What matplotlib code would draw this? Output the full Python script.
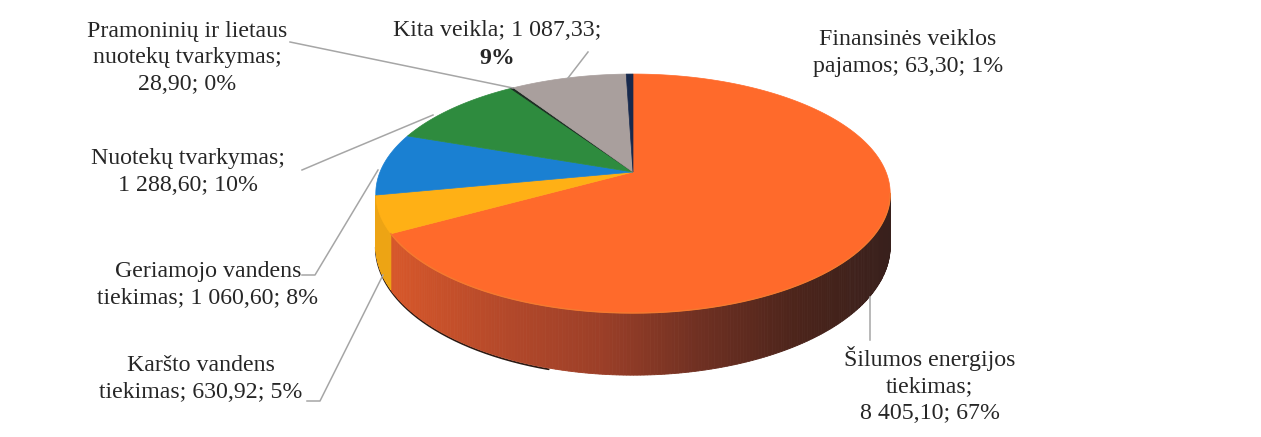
import numpy as np
import matplotlib
matplotlib.use("Agg")
import matplotlib.pyplot as plt
from matplotlib.colors import to_rgb

plt.rcParams['font.family'] = ['Liberation Serif', 'DejaVu Serif']

categories = ["Šilumos energijos tiekimas", "Karšto vandens tiekimas", "Geriamojo vandens tiekimas",
              "Nuotekų tvarkymas", "Pramoninių ir lietaus nuotekų tvarkymas", "Kita veikla",
              "Finansinės veiklos pajamos"]
values = [8405.10, 630.92, 1060.60, 1288.60, 28.90, 1087.33, 63.30]
colors = ["#ff6a2b", "#ffb015", "#1a80d2", "#2e8b3e", "#1a2a20", "#a99f9d", "#17294d"]
labels = ["Šilumos energijos\ntiekimas;\n8 405,10; 67%",
          "Karšto vandens\ntiekimas; 630,92; 5%",
          "Geriamojo vandens\ntiekimas; 1 060,60; 8%",
          "Nuotekų tvarkymas;\n1 288,60; 10%",
          "Pramoninių ir lietaus\nnuotekų tvarkymas;\n28,90; 0%",
          "Kita veikla; 1 087,33;",
          "Finansinės veiklos\npajamos; 63,30; 1%"]
label_pos = [(930, 385), (201, 379), (208, 285), (188, 172), (187, 58), (497, 30), (908, 53)]
leaders = [[(870, 297), (870, 340)],
           [(307, 401), (320, 401), (383, 275)],
           [(302, 275), (315, 275), (378, 170)],
           [(302, 170), (335, 156), (433, 115)],
           [(290, 42), (513, 88)],
           [(568, 78), (588, 52)]]

CX, CY = 633, 172
A, B, K = 253, 115.6, 0.18
DEPTH = 51
# silhouette of the projected disc: the wall is seen between these angles
VIS0 = np.pi - np.arccos(K)
VIS1 = np.pi + np.arccos(K)


def project(theta, r=1.0, drop=0.0):
    u, v = r * np.sin(theta), r * np.cos(theta)
    w = 1 + K * v
    return CX + A * u / w, CY - B * v / w + drop / w


fig = plt.figure(figsize=(12.61, 4.37), dpi=100)
ax = fig.add_axes([0, 0, 1, 1])
ax.set_xlim(0, 1261)
ax.set_ylim(437, 0)
ax.axis("off")

fractions = np.array(values) / sum(values)
edges = np.concatenate([[0], np.cumsum(fractions)]) * 2 * np.pi

# dark rim under the left part of the side wall
th = np.linspace(np.radians(196), VIS1, 200)
x, y = project(th, drop=DEPTH + 1.0)
ax.plot(x, y, color="#2a1a14", lw=1.3, zorder=1, solid_capstyle="round")

# side wall, shaded from left to right
grad_x = [385, 500, 600, 700, 800, 890]
grad_o = [to_rgb(c) for c in ["#d9582a", "#b5492a", "#9c3f28", "#6f3022", "#4b241b", "#38201c"]]
for i, c in enumerate(colors[:2]):
    a0v, a1v = max(edges[i], VIS0), min(edges[i + 1], VIS1)
    if a1v <= a0v:
        continue
    steps = np.linspace(a0v, a1v, max(2, int((a1v - a0v) * 90)))
    for s0, s1 in zip(steps[:-1], steps[1:]):
        tt = np.linspace(s0, s1, 3)
        xt, yt = project(tt)
        xb, yb = project(tt[::-1], drop=DEPTH)
        xm = xt.mean()
        if i == 0:
            col = [np.interp(xm, grad_x, [g[k] for g in grad_o]) for k in range(3)]
        else:
            col = [ch * 0.93 for ch in to_rgb(c)]
        ax.fill(np.r_[xt, xb], np.r_[yt, yb], color=col, lw=0.6, zorder=2)

# top face
for i, c in enumerate(colors):
    tt = np.linspace(edges[i], edges[i + 1], max(3, int((edges[i + 1] - edges[i]) * 80)))
    xt, yt = project(tt)
    ax.fill(np.r_[CX, xt], np.r_[CY, yt], color=c, lw=0.5, zorder=3)

# light rim of the orange face
tt = np.linspace(VIS0, edges[1], 200)
xt, yt = project(tt)
ax.plot(xt, yt, color="#f47a30", lw=1.0, zorder=4)

for pts in leaders:
    px, py = zip(*pts)
    ax.plot(px, py, color="#a6a6a6", lw=1.1, zorder=2.5 if pts[0][0] > 800 else 5)

for (lx, ly), text in zip(label_pos, labels):
    ax.text(lx, ly, text, ha="center", va="center", fontsize=17.2, color="#262626",
            linespacing=1.36, zorder=6)
ax.text(497, 58, "9%", ha="center", va="center", fontsize=17.2, color="#262626",
        fontweight="bold", zorder=6)

fig.savefig("out.png", dpi=100, facecolor="white")
